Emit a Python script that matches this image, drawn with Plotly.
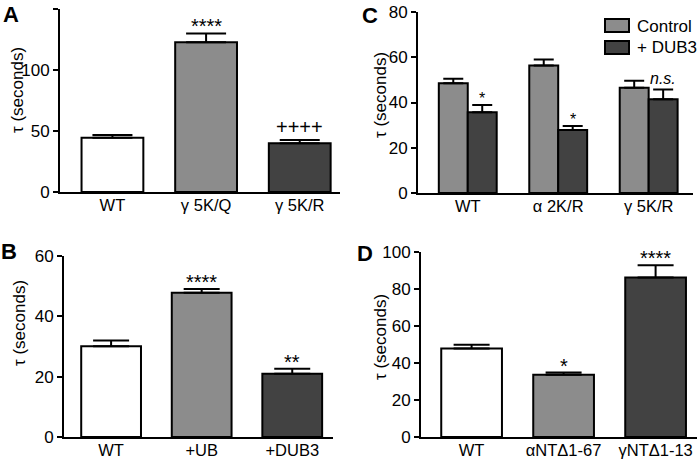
import plotly.graph_objects as go

# Panel A
a_labels = ["WT", "γ 5K/Q", "γ 5K/R"]
a_vals = [44.5, 122.7, 39.9]
a_err = [2.2, 7.3, 2.7]
a_marks = ["", "****", "++++"]

# Panel B
b_labels = ["WT", "+UB", "+DUB3"]
b_vals = [30.1, 47.8, 21.0]
b_err = [1.9, 1.3, 1.6]
b_marks = ["", "****", "**"]

# Panel C
c_labels = ["WT", "α 2K/R", "γ 5K/R"]
c_control = [48.5, 56.4, 46.5]
c_control_err = [2.0, 2.6, 3.1]
c_dub3 = [35.7, 27.9, 41.4]
c_dub3_err = [3.2, 1.7, 4.4]
c_marks = ["*", "*", "<i>n.s.</i>"]

# Panel D
d_labels = ["WT", "αNTΔ1-67", "γNTΔ1-13"]
d_vals = [47.9, 33.7, 86.2]
d_err = [2.0, 1.1, 6.6]
d_marks = ["", "*", "****"]

WHITE, GRAY, DARK = "white", "#8c8c8c", "#424242"
FONT = "Liberation Sans, Arial, sans-serif"

fig = go.Figure()


def add_bars(xa, ya, vals, err, colors, cap, offset=None, width=0.66, name=None):
    fig.add_trace(go.Bar(
        x=list(range(len(vals))), y=vals, width=width, offset=offset,
        marker=dict(color=colors, line=dict(color="black", width=2)),
        error_y=dict(type="data", symmetric=False, array=err,
                     arrayminus=[0] * len(err), color="black",
                     thickness=2, width=cap),
        xaxis=xa, yaxis=ya, showlegend=False, name=name))


def add_marks(xref, yref, xs, tops, marks, size=20):
    for x, t, m in zip(xs, tops, marks):
        if m:
            # asterisks sit high in the line box, pluses/text do not
            shift = -int(size * 0.3) if m.startswith("*") else 0
            fig.add_annotation(x=x, y=t, xref=xref, yref=yref, text=m,
                               showarrow=False, xanchor="center",
                               yanchor="bottom", yshift=shift,
                               font=dict(size=size, color="black", family=FONT))


n = range(3)
add_bars("x", "y", a_vals, a_err, [WHITE, GRAY, DARK], 20)
add_marks("x", "y", n, [v + e for v, e in zip(a_vals, a_err)], a_marks)

add_bars("x3", "y3", b_vals, b_err, [WHITE, GRAY, DARK], 18)
add_marks("x3", "y3", n, [v + e for v, e in zip(b_vals, b_err)], b_marks)

gw = 0.32
add_bars("x2", "y2", c_control, c_control_err, GRAY, 10, offset=-gw, width=gw, name="Control")
add_bars("x2", "y2", c_dub3, c_dub3_err, DARK, 10, offset=0, width=gw, name="+ DUB3")
add_marks("x2", "y2", [i + gw / 2 for i in n],
          [v + e for v, e in zip(c_dub3, c_dub3_err)], c_marks, size=16)

add_bars("x4", "y4", d_vals, d_err, [WHITE, GRAY, DARK], 18)
add_marks("x4", "y4", n, [v + e for v, e in zip(d_vals, d_err)], d_marks)

ax_common = dict(showline=True, linewidth=2, linecolor="black", showgrid=False,
                 zeroline=False, automargin=False,
                 tickfont=dict(size=17, color="black", family=FONT))
xa_common = dict(ax_common, ticks="", tickvals=[0, 1, 2], ticklabelstandoff=-3,
                 tickfont=dict(size=16.5, color="black", family=FONT))
ya_common = dict(ax_common, ticks="outside", ticklen=5, tickwidth=2,
                 tickcolor="black")

W, H = 700, 460
fig.update_layout(
    width=W, height=H, margin=dict(l=0, r=0, t=0, b=0, autoexpand=False),
    plot_bgcolor="white", paper_bgcolor="white", bargap=0.34,
    font=dict(family=FONT, color="black"),
    xaxis=dict(xa_common, domain=[60 / W, 340 / W], range=[-0.56, 2.43],
               ticktext=a_labels, anchor="y"),
    yaxis=dict(ya_common, domain=[(H - 192) / H, (H - 9) / H], range=[0, 150],
               tickvals=[0, 50, 100, 150], anchor="x"),
    xaxis2=dict(xa_common, domain=[418 / W, 693 / W], range=[-0.55, 2.49],
                ticktext=c_labels, anchor="y2"),
    yaxis2=dict(ya_common, domain=[(H - 193) / H, (H - 12) / H], range=[0, 80],
                tickvals=[0, 20, 40, 60, 80], anchor="x2"),
    xaxis3=dict(xa_common, domain=[64 / W, 333 / W], range=[-0.52, 2.45],
                ticktext=b_labels, anchor="y3"),
    yaxis3=dict(ya_common, domain=[(H - 437) / H, (H - 256) / H], range=[0, 60],
                tickvals=[0, 20, 40, 60], anchor="x3"),
    xaxis4=dict(xa_common, domain=[421 / W, 697 / W], range=[-0.55, 2.45],
                ticktext=d_labels, anchor="y4"),
    yaxis4=dict(ya_common, domain=[(H - 437) / H, (H - 252) / H], range=[0, 100],
                tickvals=[0, 20, 40, 60, 80, 100], anchor="x4"),
)

# axis titles and panel letters
for x, y in [(18, 90), (380, 95), (19, 323), (380, 337)]:
    fig.add_annotation(x=x / W, y=1 - y / H, xref="paper", yref="paper",
                       xanchor="center", yanchor="middle",
                       text="τ (seconds)", textangle=-90, showarrow=False,
                       font=dict(size=17, color="black", family=FONT))
for letter, x, y in [("A", 11, 14), ("C", 370, 15), ("B", 9, 252), ("D", 365, 253)]:
    fig.add_annotation(x=x / W, y=1 - y / H, xref="paper", yref="paper",
                       xanchor="center", yanchor="middle",
                       text="<b>%s</b>" % letter, showarrow=False,
                       font=dict(size=22, color="black", family=FONT))

# legend for panel C
for i, (name, col) in enumerate([("Control", GRAY), ("+ DUB3", DARK)]):
    y0 = 19 + i * 22
    fig.add_shape(type="rect", xref="paper", yref="paper",
                  x0=605 / W, x1=629 / W, y0=1 - (y0 + 13) / H, y1=1 - y0 / H,
                  fillcolor=col, line=dict(color="black", width=2))
    fig.add_annotation(x=635 / W, y=1 - (y0 + 7) / H, xref="paper", yref="paper",
                       text=name, showarrow=False, xanchor="left", yanchor="middle",
                       font=dict(size=17, color="black", family=FONT))

fig.write_html("out.html", config={"displayModeBar": False},
               post_script="document.body.style.margin='0';")
